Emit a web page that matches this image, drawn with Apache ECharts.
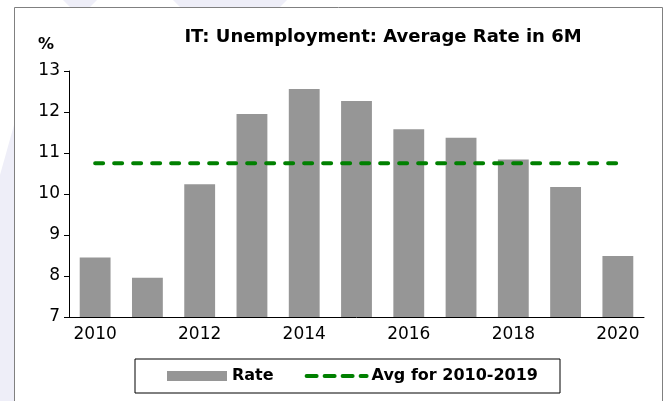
<!DOCTYPE html>
<html>
<head>
<meta charset="utf-8">
<script src="https://cdn.jsdelivr.net/npm/echarts@6/dist/echarts.min.js"></script>
<style>
  html, body { margin: 0; padding: 0; background: #fff; }
  #chart { width: 667px; height: 401px; }
</style>
</head>
<body>
<div id="chart"></div>
<script>
var years = ['2010', '2011', '2012', '2013', '2014', '2015', '2016', '2017', '2018', '2019', '2020'];
var rate = [8.45, 7.96, 10.24, 11.95, 12.56, 12.27, 11.58, 11.37, 10.84, 10.17, 8.49];
var avgLevel = [10.75, 10.75, 10.75, 10.75, 10.75, 10.75, 10.75, 10.75, 10.75, 10.75, 10.75];

var myChart = echarts.init(document.getElementById('chart'));
var font = 'DejaVu Sans, sans-serif';

var option = {
  animation: false,
  textStyle: { fontFamily: font },
  graphic: [
    // faint watermark shapes behind the frame
    { type: 'polygon', z: -10, shape: { points: [[0, 175], [14, 125], [14, 401], [0, 401]] }, style: { fill: '#eeeef8' } },
    { type: 'polygon', z: -10, shape: { points: [[63, 0], [97, 0], [90, 7], [70, 7]] }, style: { fill: '#eeeef8' } },
    { type: 'polygon', z: -10, shape: { points: [[173, 0], [287, 0], [280, 7], [180, 7]] }, style: { fill: '#eeeef8' } },
    // frame
    { type: 'rect', z: -5, shape: { x: 14.5, y: 7.5, width: 648, height: 410 }, style: { fill: '#fff', stroke: '#808080', lineWidth: 1 } },
    { type: 'text', left: 38, top: 37, style: { text: '%', font: 'bold 16px ' + font, fill: '#000' } }
  ],
  title: {
    text: 'IT: Unemployment: Average Rate in 6M',
    left: 378, top: 23, textAlign: 'center',
    textStyle: { fontSize: 18, fontWeight: 'bold', color: '#000', fontFamily: font }
  },
  legend: {
    left: 135, top: 359,
    padding: [9, 22, 9, 32],
    itemGap: 31, itemWidth: 60, itemHeight: 10,
    borderColor: '#000', borderWidth: 1,
    textStyle: { fontSize: 16, fontWeight: 'bold', color: '#000', fontFamily: font },
    data: [
      { name: 'Rate', icon: 'rect' },
      { name: 'Avg for 2010-2019', itemStyle: { opacity: 0 }, lineStyle: { width: 4, type: [10, 8], cap: 'round' } }
    ]
  },
  grid: { left: 69, right: 23, top: 71, bottom: 84 },
  xAxis: {
    type: 'category',
    data: years,
    axisLine: { lineStyle: { color: '#000', width: 1 } },
    axisTick: { interval: 0, length: 5, lineStyle: { color: '#000' } },
    axisLabel: { interval: 1, fontSize: 17, color: '#000', margin: 9, fontFamily: font }
  },
  yAxis: {
    type: 'value',
    min: 7, max: 13, interval: 1,
    splitLine: { show: false },
    axisLine: { show: true, lineStyle: { color: '#000', width: 1 } },
    axisTick: { show: true, length: 5, lineStyle: { color: '#000' } },
    axisLabel: { fontSize: 17, color: '#000', margin: 9, fontFamily: font }
  },
  series: [
    {
      name: 'Rate',
      type: 'bar',
      data: rate,
      barCategoryGap: '41%',
      itemStyle: { color: '#969696' }
    },
    {
      name: 'Avg for 2010-2019',
      type: 'line',
      data: avgLevel,
      symbol: 'none',
      z: 5,
      lineStyle: { color: '#008000', width: 4, type: [8, 11], cap: 'round' },
      itemStyle: { color: '#008000' }
    }
  ]
};
myChart.setOption(option);
</script>
</body>
</html>
